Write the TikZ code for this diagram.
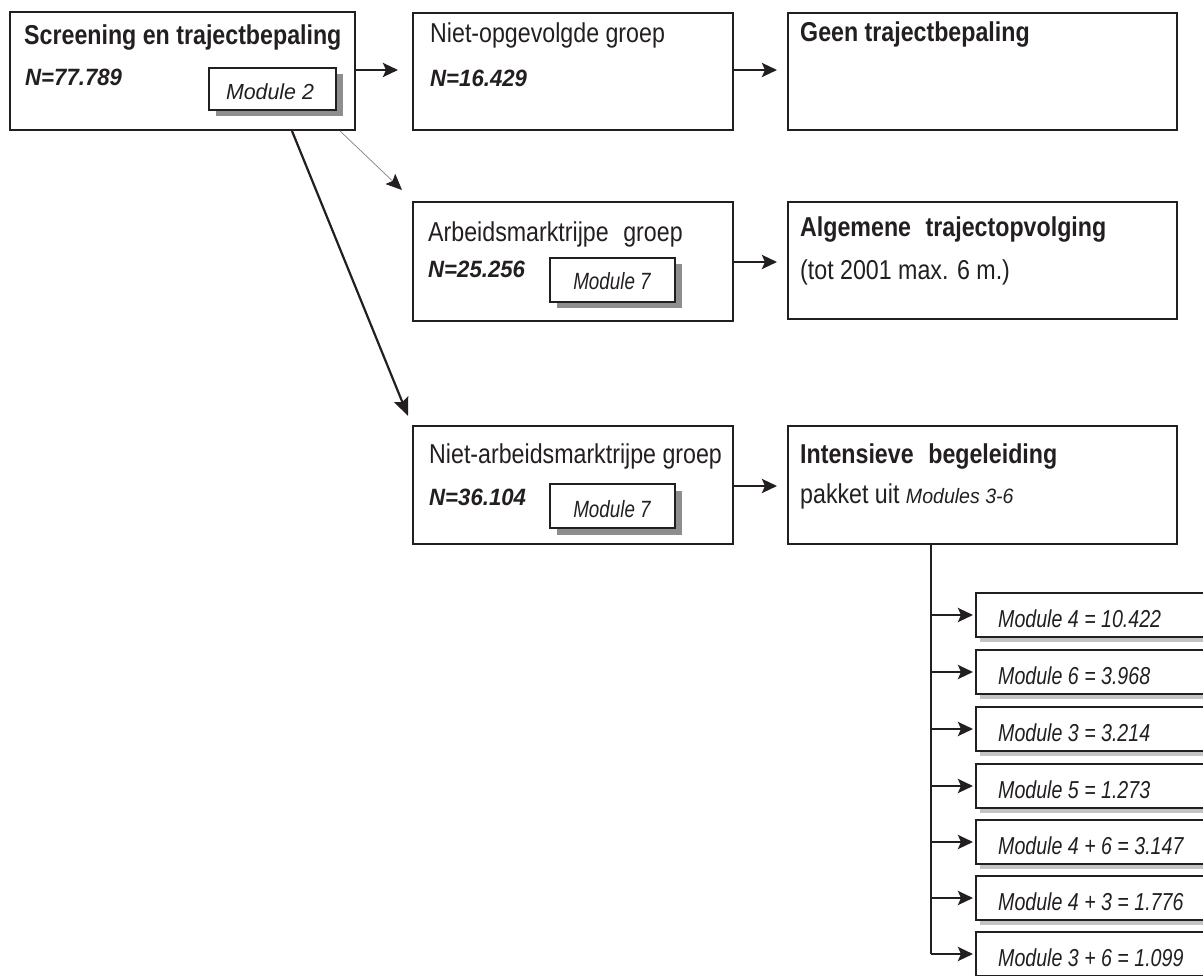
\documentclass[tikz,border=0pt]{standalone}
\usepackage{fontspec}
\setmainfont[FakeStretch=0.85]{Liberation Sans}
\newfontfamily\numf[FakeStretch=0.94]{Liberation Sans}
\newfontfamily\modf[FakeStretch=0.80]{Liberation Sans}
\newfontfamily\modwf[FakeStretch=0.98]{Liberation Sans}
\usetikzlibrary{arrows.meta,shadows}
\definecolor{ink}{HTML}{231F20}
\definecolor{shadowdark}{HTML}{8E8E8E}
\definecolor{shadowlight}{HTML}{C4C4C4}
\newcommand\bigtxt{\fontsize{27.3pt}{32pt}\selectfont}
\newcommand\numtxt{\numf\fontsize{23.6pt}{28pt}\selectfont\bfseries\itshape}
\newcommand\modtxt{\modf\fontsize{24.5pt}{29pt}\selectfont\itshape}
\begin{document}
\begin{tikzpicture}[x=1pt,y=-1pt,
  box/.style={draw=ink, line width=1.3pt, fill=white, rectangle, anchor=north west, inner sep=0pt, outer sep=0pt},
  modbox/.style={box, drop shadow={shadow xshift=6.5pt, shadow yshift=-6.5pt, fill=shadowdark, opacity=1}},
  colbox/.style={box, minimum width=250pt, minimum height=44pt, drop shadow={shadow xshift=4pt, shadow yshift=-4.5pt, fill=shadowlight, opacity=1}},
  txt/.style={anchor=base west, inner sep=0pt, text=ink, font=\bigtxt},
  num/.style={anchor=base west, inner sep=0pt, text=ink, font=\numtxt},
  modlabel/.style={anchor=base, inner sep=0pt, text=ink},
  coltxt/.style={anchor=base west, inner sep=0pt, text=ink, font=\modtxt},
  harr/.style={draw=ink, line width=2.8pt, -{Stealth[length=15pt, width=14pt, inset=3pt]}}
]
\useasboundingbox (0,0) rectangle (1203,976);
\clip (0,0) rectangle (1203,976);

% main boxes
\node[box, minimum width=345pt, minimum height=118pt] (scr) at (10,12) {};
\node[box, minimum width=320pt, minimum height=117pt] (nog) at (413,13) {};
\node[box, minimum width=389pt, minimum height=117pt] (geen) at (788,13) {};
\node[box, minimum width=320pt, minimum height=119pt] (arb) at (413,202) {};
\node[box, minimum width=389pt, minimum height=117pt] (alg) at (788,202) {};
\node[box, minimum width=320pt, minimum height=118pt] (narb) at (413,426) {};
\node[box, minimum width=389pt, minimum height=118pt] (int) at (788,426) {};

% module boxes with shadow
\node[modbox, minimum width=127pt, minimum height=42pt] (mod2) at (209,68) {};
\node[modbox, minimum width=125pt, minimum height=44pt] (mod7a) at (550,258) {};
\node[modbox, minimum width=125pt, minimum height=44pt] (mod7b) at (550,484) {};

% texts
\node[txt, font=\bigtxt\bfseries] (t1) at (24,45) {Screening en trajectbepaling};
\node[num] (n1) at (25,86) {N=77.789};
\node[modlabel, font=\modwf\fontsize{21.8pt}{26pt}\selectfont\itshape] (l2) at (270,100) {Module 2};

\node[txt] (t2) at (430,43) {Niet-opgevolgde groep};
\node[num] (n2) at (430,87) {N=16.429};

\node[txt, font=\bigtxt\bfseries] (t3) at (800,42) {Geen trajectbepaling};

\node[txt] (t4) at (428,242) {Arbeidsmarktrijpe\hspace{0.3em} groep};
\node[num] (n4) at (428,278) {N=25.256};
\node[modlabel, font=\modf\fontsize{23.5pt}{28pt}\selectfont\itshape] (l7a) at (612,290) {Module 7};

\node[txt, font=\bigtxt\bfseries] (t5) at (800,237) {Algemene\hspace{0.3em} trajectopvolging};
\node[txt] (t5b) at (800,280) {(tot 2001 max. 6 m.)};

\node[txt] (t6) at (429,463) {Niet-arbeidsmarktrijpe groep};
\node[num] (n6) at (429,505) {N=36.104};
\node[modlabel, font=\modf\fontsize{23.5pt}{28pt}\selectfont\itshape] (l7b) at (612,517) {Module 7};

\node[txt, font=\bigtxt\bfseries] (t7) at (800,463) {Intensieve\hspace{0.3em} begeleiding};
\node[txt] (t7b) at (800,503) {pakket uit \numf\fontsize{20.8pt}{25pt}\selectfont\itshape Modules 3-6};

% column of module boxes
\node[colbox] (m1) at (976,593) {};
\node[colbox] (m2) at (976,650) {};
\node[colbox] (m3) at (976,707) {};
\node[colbox] (m4) at (976,764) {};
\node[colbox] (m5) at (976,820) {};
\node[colbox] (m6) at (976,876) {};
\node[colbox] (m7) at (976,932) {};

\node[coltxt] (c1) at (998,627) {Module 4 = 10.422};
\node[coltxt] (c2) at (998,684) {Module 6 = 3.968};
\node[coltxt] (c3) at (998,741) {Module 3 = 3.214};
\node[coltxt] (c4) at (998,798) {Module 5 = 1.273};
\node[coltxt] (c5) at (998,854) {Module 4 + 6 = 3.147};
\node[coltxt] (c6) at (998,910) {Module 4 + 3 = 1.776};
\node[coltxt] (c7) at (998,966) {Module 3 + 6 = 1.099};

% connectors
\draw[harr, shorten >=15pt] (scr.east |- 0,70) -- (nog.west |- 0,70);
\draw[harr, shorten >=11pt] (nog.east |- 0,70) -- (geen.west |- 0,70);
\draw[harr, shorten >=11pt] (arb.east |- 0,262) -- (alg.west |- 0,262);
\draw[harr, shorten >=11pt] (narb.east |- 0,486) -- (int.west |- 0,486);

\coordinate (d1s) at (340,131);
\coordinate (d1e) at (402,190);
\coordinate (d2s) at (292,131);
\coordinate (d2e) at (408,416);
\draw[draw=gray, line width=0.7pt, -{Stealth[length=16pt, width=14pt, inset=3pt, color=ink]}] (d1s) -- (d1e);
\draw[draw=ink, line width=2.2pt, -{Stealth[length=18pt, width=15pt, inset=3pt]}] (d2s) -- (d2e);

\coordinate (vtop) at (931,544);
\coordinate (vbot) at (931,954);
\draw[draw=ink, line width=1.6pt] (vtop) -- (vbot);
\foreach \m in {m1,m2,m3,m4,m5,m6,m7}{
  \draw[harr, shorten >=3pt] (\m.west -| vtop) -- (\m.west);
}
\end{tikzpicture}
\end{document}
